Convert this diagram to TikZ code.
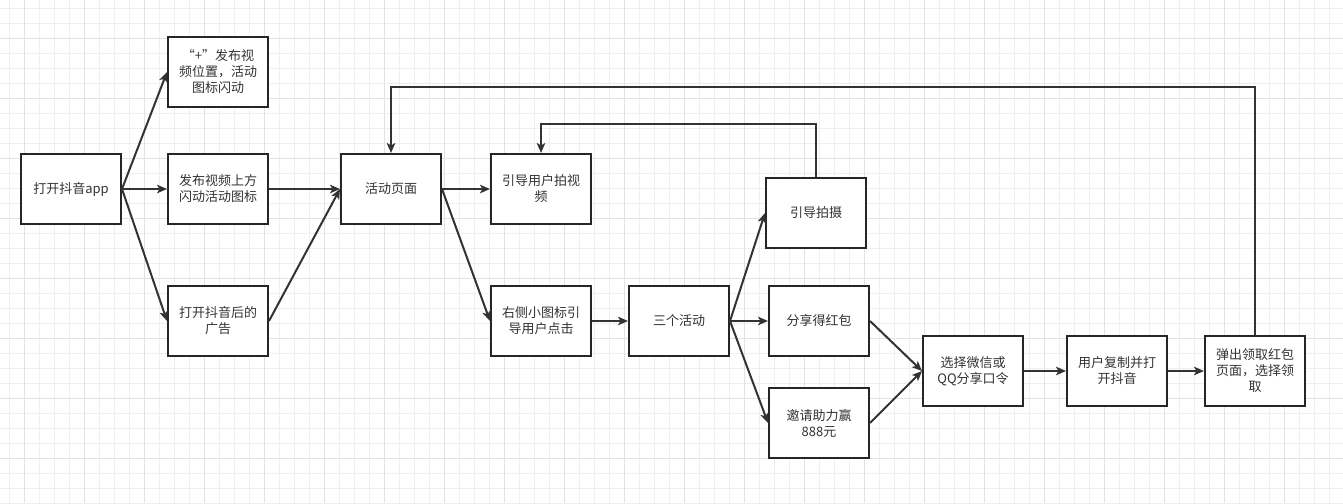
\documentclass[tikz,border=0pt]{standalone}
\usepackage{fontspec}
\newfontfamily\cjk{Noto Sans CJK SC}
\usetikzlibrary{arrows.meta}
\definecolor{ink}{HTML}{333333}
\definecolor{boxline}{HTML}{262626}
\definecolor{gridminor}{HTML}{EFEFEF}
\definecolor{gridmajor}{HTML}{E2E2E2}
\tikzset{
  stepbox/.style={draw=boxline, line width=2pt, fill=white, minimum width=100pt, minimum height=70pt,
    inner sep=2pt, align=center, text=ink, font=\cjk\fontsize{13}{16}\selectfont},
  flow/.style={draw=ink, line width=2pt, -{Stealth[length=10pt,width=8.5pt,inset=2.5pt]}},
}
\begin{document}
\begin{tikzpicture}[x=1pt,y=-1pt]
\useasboundingbox (0,0) rectangle (1343,503);
\fill[white] (0,0) rectangle (1343,503);
% grid
\foreach \k in {0,...,89} { \draw[gridminor, line width=1pt] ({9.3+15*\k},0) -- ({9.3+15*\k},503); }
\foreach \k in {0,...,33} { \draw[gridminor, line width=1pt] (0,{8.3+15*\k}) -- (1343,{8.3+15*\k}); }
\foreach \k in {0,...,22} { \draw[gridmajor, line width=1pt] ({24.3+60*\k},0) -- ({24.3+60*\k},503); }
\foreach \k in {0,...,7} { \draw[gridmajor, line width=1pt] (0,{38.3+60*\k}) -- (1343,{38.3+60*\k}); }

% nodes
\node[stepbox] (A) at (71,189) {打开抖音app};
\node[stepbox] (B) at (218,72) {“+”发布视\\频位置，活动\\图标闪动};
\node[stepbox] (C) at (218,189) {发布视频上方\\闪动活动图标};
\node[stepbox] (D) at (218,321) {打开抖音后的\\广告};
\node[stepbox] (E) at (391,189) {活动页面};
\node[stepbox] (F) at (541,189) {引导用户拍视\\频};
\node[stepbox] (G) at (541,321) {右侧小图标引\\导用户点击};
\node[stepbox] (H) at (679,321) {三个活动};
\node[stepbox] (I) at (816,213) {引导拍摄};
\node[stepbox] (J) at (819,321) {分享得红包};
\node[stepbox] (K) at (819,423) {邀请助力赢\\888元};
\node[stepbox] (L) at (973,371) {选择微信或\\QQ分享口令};
\node[stepbox] (M) at (1117,371) {用户复制并打\\开抖音};
\node[stepbox] (N) at (1255,371) {弹出领取红包\\页面，选择领\\取};

% connectors
\draw[flow] (A.east) -- (B.west);
\draw[flow] (A.east) -- (C.west);
\draw[flow] (A.east) -- (D.west);
\draw[flow] (C.east) -- (E.west);
\draw[flow] (D.east) -- (E.west);
\draw[flow] (E.east) -- (F.west);
\draw[flow] (E.east) -- (G.west);
\draw[flow] (G.east) -- (H.west);
\draw[flow] (H.east) -- (I.west);
\draw[flow] (H.east) -- (J.west);
\draw[flow] (H.east) -- (K.west);
\draw[flow] (J.east) -- (L.west);
\draw[flow] (K.east) -- (L.west);
\draw[flow] (L.east) -- (M.west);
\draw[flow] (M.east) -- (N.west);
\draw[flow] (N.north) -- (N.north |- 0,87) -- (E.north |- 0,87) -- (E.north);
\draw[flow] (I.north) -- (I.north |- 0,124) -- (F.north |- 0,124) -- (F.north);
\end{tikzpicture}
\end{document}
